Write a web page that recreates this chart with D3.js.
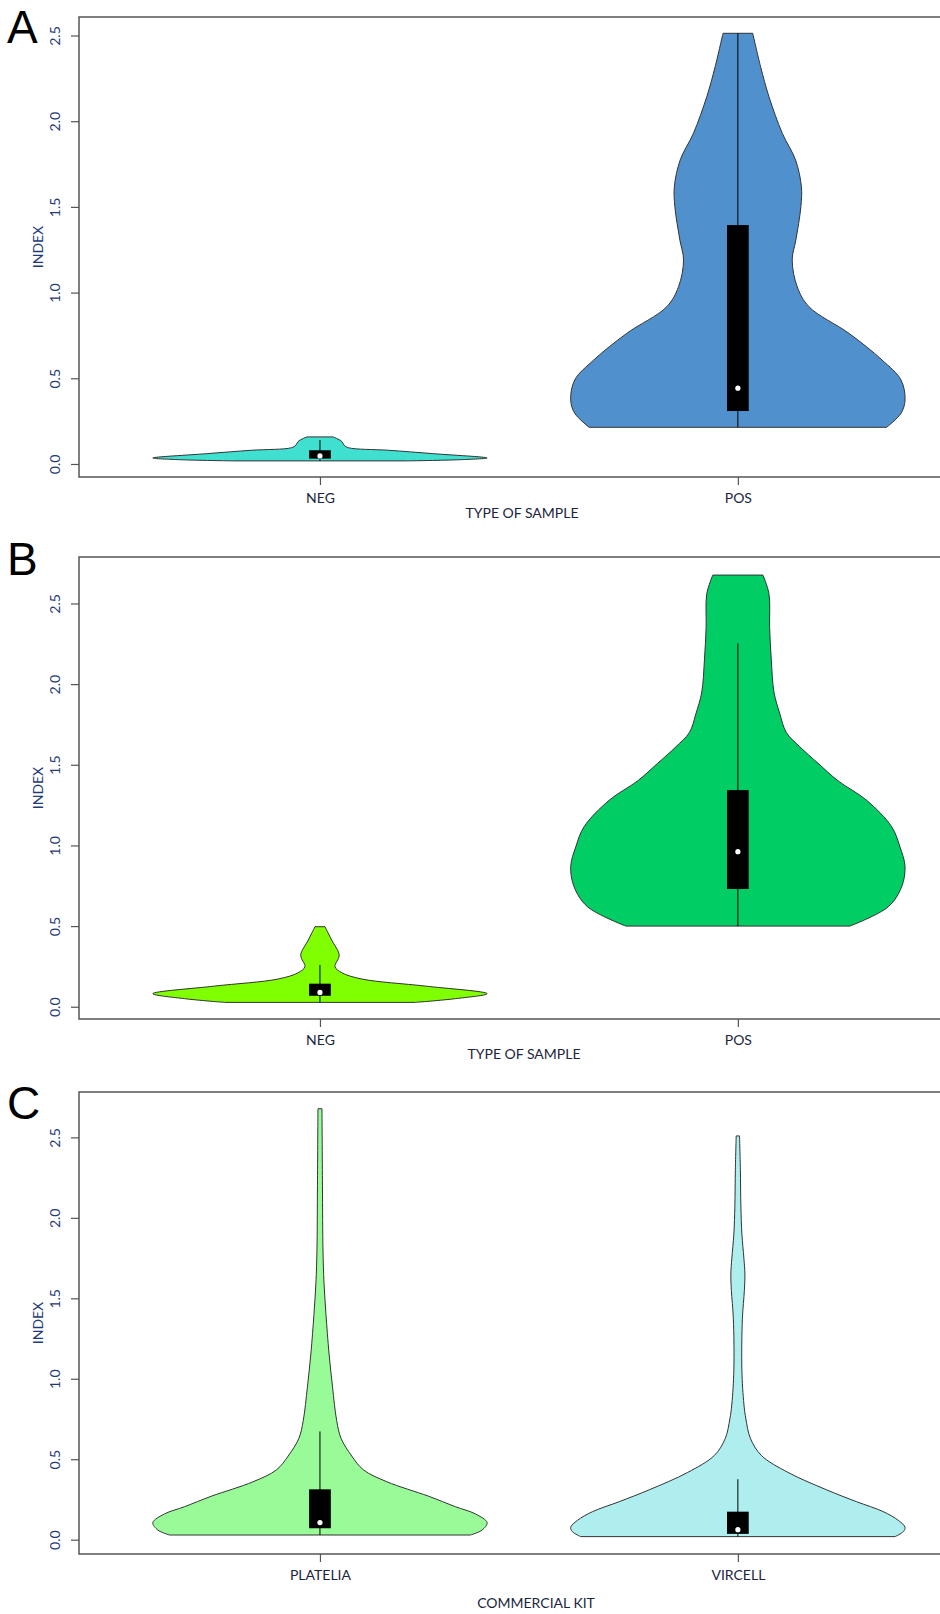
<!DOCTYPE html>
<html>
<head>
  <meta charset="utf-8">
  <title>Violin plots INDEX</title>
  <style>
    body { margin: 0; background: white; }
    svg { display: block; }
    .frame { fill: none; stroke: #555; stroke-width: 1.5px; }
    .tick line { stroke: #555; stroke-width: 1.2px; }
    .tick text { font-family: Lato, "Open Sans", sans-serif; font-size: 14px; }
    .y-label text, .y-axis text { fill: #1f3c78; }
    .x-axis text { fill: #1a2540; }
    .axis-title { font-family: Lato, "Open Sans", sans-serif; font-size: 14px; }
    .violin { stroke: #333; stroke-width: 1px; }
    .letter { font-family: "Liberation Sans", Arial, sans-serif; font-size: 46px; fill: black; }
  </style>
</head>
<body>
  <div id="chart"></div>

  <script src="https://d3js.org/d3.v7.min.js"></script>
  <script>
    // ---- data ----
    const panelLetters = ["A", "B", "C"];
    const categoriesAB = ["NEG", "POS"];
    const categoriesC = ["PLATELIA", "VIRCELL"];
    const xTitles = ["TYPE OF SAMPLE", "TYPE OF SAMPLE", "COMMERCIAL KIT"];
    const yTitle = "INDEX";
    const yTickValues = [0, 0.5, 1, 1.5, 2, 2.5];
    const yDomains = [[-0.076, 2.608], [-0.076, 2.788], [-0.089, 2.782]];

    // violin outlines: INDEX level and relative density (1 = widest)
    const negA_levels  = [0.018, 0.025, 0.035, 0.06, 0.08, 0.095, 0.11, 0.13, 0.145, 0.158];
    const negA_density = [0.52, 0.84, 1.0, 0.68, 0.41, 0.17, 0.144, 0.132, 0.108, 0.078];

    const posA_levels  = [0.214, 0.296, 0.373, 0.49, 0.607, 0.762, 0.918, 1.034, 1.19, 1.307, 1.501, 1.618, 1.774, 1.929, 2.143, 2.318, 2.513];
    const posA_density = [0.89, 0.976, 1.0, 0.976, 0.862, 0.665, 0.425, 0.355, 0.325, 0.347, 0.377, 0.38, 0.345, 0.266, 0.186, 0.136, 0.089];

    const negB_levels  = [0.027, 0.05, 0.081, 0.128, 0.172, 0.211, 0.248, 0.32, 0.413, 0.496];
    const negB_density = [0.57, 0.81, 1.0, 0.63, 0.25, 0.13, 0.09, 0.115, 0.07, 0.03];

    const posB_levels  = [0.5, 0.62, 0.744, 0.87, 0.99, 1.116, 1.28, 1.4, 1.509, 1.612, 1.7, 1.82, 1.95, 2.15, 2.35, 2.56, 2.676];
    const posB_density = [0.67, 0.9, 0.98, 1.0, 0.97, 0.92, 0.77, 0.6, 0.48, 0.37, 0.29, 0.25, 0.216, 0.2, 0.19, 0.186, 0.15];

    const plat_levels  = [0.029, 0.06, 0.106, 0.16, 0.205, 0.27, 0.36, 0.434, 0.52, 0.63, 0.74, 0.95, 1.16, 1.4, 1.6, 1.8, 2.2, 2.678];
    const plat_density = [0.9, 0.97, 1.0, 0.93, 0.81, 0.65, 0.4, 0.26, 0.19, 0.126, 0.1, 0.075, 0.054, 0.036, 0.024, 0.018, 0.015, 0.012];

    const virc_levels  = [0.019, 0.05, 0.077, 0.12, 0.174, 0.236, 0.31, 0.418, 0.524, 0.63, 0.75, 0.843, 1.055, 1.373, 1.55, 1.65, 1.75, 1.9, 2.073, 2.3, 2.509];
    const virc_density = [0.94, 0.99, 1.0, 0.96, 0.87, 0.71, 0.53, 0.3, 0.14, 0.075, 0.048, 0.036, 0.024, 0.027, 0.039, 0.042, 0.036, 0.024, 0.018, 0.015, 0.01];

    // box stats: [min, Q1, median, Q3, upper whisker]
    const negA_box = [0.018, 0.031, 0.047, 0.080, 0.14];
    const posA_box = [0.214, 0.309, 0.442, 1.394, 2.513];
    const negB_box = [0.027, 0.068, 0.089, 0.143, 0.259];
    const posB_box = [0.500, 0.730, 0.961, 1.343, 2.253];
    const plat_box = [0.029, 0.071, 0.106, 0.313, 0.673];
    const virc_box = [0.019, 0.036, 0.062, 0.174, 0.376];

    const fillColors = [["#40E0D0", "#4F90CD"], ["#7FFF00", "#00CD63"], ["#98FB98", "#AFEEEE"]];

    const panelData = [
      { cats: categoriesAB, violins: [[negA_levels, negA_density, negA_box], [posA_levels, posA_density, posA_box]] },
      { cats: categoriesAB, violins: [[negB_levels, negB_density, negB_box], [posB_levels, posB_density, posB_box]] },
      { cats: categoriesC,  violins: [[plat_levels, plat_density, plat_box], [virc_levels, virc_density, virc_box]] }
    ];

    // ---- layout ----
    const width = 940, height = 1614;
    const plotLeft = 79, plotRight = 979;
    const layout = [
      { top: 17,   bottom: 477,  letterY: 43,   titleX: 522, titleDy: 36 },
      { top: 557,  bottom: 1019, letterY: 575,  titleX: 524, titleDy: 35 },
      { top: 1092, bottom: 1554, letterY: 1119, titleX: 536, titleDy: 49 }
    ];
    const maxHalfWidth = 0.4;   // in category units
    const boxHalfWidth = 0.026;

    const svg = d3.select("#chart")
      .append("svg")
      .attr("width", width)
      .attr("height", height);

    const xScale = d3.scaleLinear()
      .domain([0.4234, 2.577])
      .range([plotLeft, plotRight]);

    for (let p = 0; p < 3; p++) {
      const lay = layout[p];
      const data = panelData[p];
      const g = svg.append("g").attr("class", "panel");

      const yScale = d3.scaleLinear()
        .domain(yDomains[p])
        .range([lay.bottom, lay.top]);

      // violins
      data.violins.forEach((v, i) => {
        const cx = i + 1;
        const pts = v[0].map((lvl, k) => ({ v: lvl, d: v[1][k] }));
        const area = d3.area()
          .y(d => yScale(d.v))
          .x0(d => xScale(cx - maxHalfWidth * d.d))
          .x1(d => xScale(cx + maxHalfWidth * d.d))
          .curve(d3.curveCatmullRom);
        g.append("path")
          .attr("class", "violin")
          .attr("d", area(pts))
          .attr("fill", fillColors[p][i]);

        const box = v[2];
        // whisker
        g.append("line")
          .attr("x1", xScale(cx)).attr("x2", xScale(cx))
          .attr("y1", yScale(box[0])).attr("y2", yScale(box[4]))
          .attr("stroke", "black").attr("stroke-width", 1);
        // box
        g.append("rect")
          .attr("x", xScale(cx - boxHalfWidth))
          .attr("width", xScale(cx + boxHalfWidth) - xScale(cx - boxHalfWidth))
          .attr("y", yScale(box[3]))
          .attr("height", yScale(box[1]) - yScale(box[3]))
          .attr("fill", "black");
        // median
        g.append("circle")
          .attr("cx", xScale(cx))
          .attr("cy", yScale(box[2]))
          .attr("r", 2.6)
          .attr("fill", "white");
      });

      // frame
      g.append("rect")
        .attr("class", "frame")
        .attr("x", plotLeft)
        .attr("y", lay.top)
        .attr("width", plotRight - plotLeft)
        .attr("height", lay.bottom - lay.top);

      // y axis
      const yAxis = d3.axisLeft(yScale)
        .tickValues(yTickValues)
        .tickSize(8)
        .tickFormat(d3.format(".1f"));
      const ya = g.append("g")
        .attr("class", "y-axis")
        .attr("transform", "translate(" + plotLeft + ",0)")
        .call(yAxis);
      ya.select(".domain").remove();
      ya.selectAll(".tick text")
        .attr("x", null).attr("dy", null)
        .attr("transform", "translate(-24,0) rotate(-90)")
        .attr("dy", "0.36em")
        .attr("text-anchor", "middle");

      // x axis
      const xAxis = d3.axisBottom(xScale)
        .tickValues([1, 2])
        .tickSize(8)
        .tickFormat((d, i) => data.cats[i]);
      const xa = g.append("g")
        .attr("class", "x-axis")
        .attr("transform", "translate(0," + lay.bottom + ")")
        .call(xAxis);
      xa.select(".domain").remove();
      xa.selectAll(".tick text")
        .attr("y", 21)
        .attr("dy", "0.36em");

      // axis titles
      g.append("text")
        .attr("class", "axis-title")
        .attr("x", lay.titleX)
        .attr("y", lay.bottom + lay.titleDy)
        .attr("dy", "0.36em")
        .attr("text-anchor", "middle")
        .attr("fill", "#1a2540")
        .text(xTitles[p]);

      g.append("text")
        .attr("class", "axis-title")
        .attr("transform", "translate(38," + (lay.top + lay.bottom) / 2 + ") rotate(-90)")
        .attr("dy", "0.36em")
        .attr("text-anchor", "middle")
        .attr("fill", "#1f3c78")
        .text(yTitle);

      // panel letter
      g.append("text")
        .attr("class", "letter")
        .attr("x", 7)
        .attr("y", lay.letterY)
        .text(panelLetters[p]);
    }
  </script>
</body>
</html>
